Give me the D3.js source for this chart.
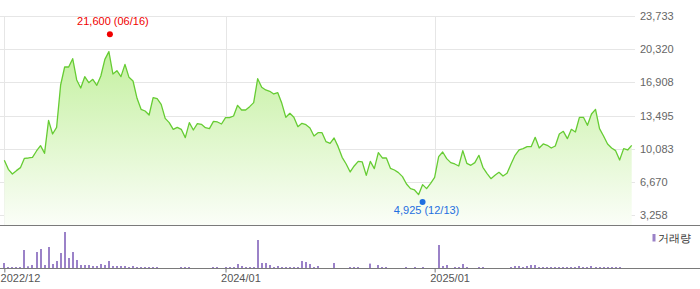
<!DOCTYPE html>
<html><head><meta charset="utf-8">
<script src="https://cdn.jsdelivr.net/npm/d3@7"></script>
<style>
html,body{margin:0;padding:0;background:#fff;}
svg{display:block;font-family:"Liberation Sans",Arial,sans-serif;}
</style></head>
<body><svg id="c" width="700" height="289"></svg>
<script>
// weekly closing prices (index-based weeks, 2022/12 .. 2025)
const prices = [8907,7983,7503,7846,8154,9112,9147,9215,9866,10414,
9626,13016,11612,12297,16645,18494,18494,19350,17159,16337,
17501,16885,17227,16611,17570,19282,20069,17775,18118,17501,
18768,17433,17056,15276,14146,13975,13564,15344,15241,14659,
13221,12776,12091,12297,12091,11235,12776,12023,12673,12605,
12262,12160,12913,12845,12639,13290,13290,13461,14557,14077,
14077,14420,14831,17296,16406,16132,15995,15721,15858,14762,
13324,13735,13324,12365,12708,12571,12229,11407,11749,11749,
10824,10653,11201,10311,9215,8530,7709,8325,8804,8736,
7366,8804,8051,9695,9147,9147,8085,7914,7640,7229,
6476,5997,5860,5380,6408,5997,6545,7160,9284,9763,
9078,8667,8530,8325,9900,8599,8393,8667,9421,8188,
7571,7024,7366,7674,7297,7571,8530,9421,9969,10106,
10311,10311,11270,10174,10585,10448,10174,10379,11612,11886,
11133,12091,11817,13324,13324,12502,13666,14146,12160,11407,
10585,10174,9900,8941,10106,9969,10448];
// weekly volume (estimated, relative units)
const volumes = [5300,1300,1300,1300,1300,18300,2000,3300,16300,19300,
3300,21300,4300,7300,15300,36300,10300,16300,8300,3300,
3300,3300,2300,2300,4300,3300,7300,2300,2300,2300,
2300,1300,2300,1300,1300,1300,1300,1300,1300,0,
0,0,0,0,1300,1300,1300,0,0,0,
0,0,1300,1300,0,1300,1300,1300,4300,2300,
1300,1300,1300,28300,5300,5300,3300,1300,2300,1300,
1300,1300,1300,1300,7300,6300,4300,1300,2300,0,
0,0,5300,0,0,0,1300,1300,1300,0,
0,4700,0,3300,1300,1300,0,0,0,0,
1300,0,1300,0,1300,0,0,0,23300,2300,
3300,0,1300,1300,4300,1300,0,0,1300,1300,
0,0,0,0,0,0,1300,2300,2300,1300,
2300,3300,3300,1300,1300,1300,1300,1300,1300,1300,
1300,1300,1300,2300,1300,1300,2300,1300,1300,1300,
1300,1300,1300,1300,0,0,0];
const priceTicks = [23733,20320,16908,13495,10083,6670,3258];
const xTickIdx = [0,55,107];
const xTickLabels = ["2022/12","2024/01","2025/01"];
const maxPoint = {idx:26, value:21600, label:"21,600 (06/16)"};
const minPoint = {idx:104, value:4925, label:"4,925 (12/13)"};
const legendLabel = "거래량";

const svg = d3.select("#c");
const x = d3.scaleLinear().domain([0, prices.length-1]).range([4.33, 631.7]);
const y = d3.scaleLinear().domain([3258, 23733]).range([215.3, 16]);
const mainBottom = 225.3, gridRight = 635;
const vy = d3.scaleLinear().domain([0, 40000]).range([268.3, 228.3]);

const defs = svg.append("defs");
const g = defs.append("linearGradient").attr("id","fillg")
  .attr("gradientUnits","userSpaceOnUse").attr("x1",0).attr("x2",0).attr("y1",30).attr("y2",mainBottom);
g.append("stop").attr("offset",0).attr("stop-color","#bdef95");
g.append("stop").attr("offset",0.5).attr("stop-color","#dcf6c6");
g.append("stop").attr("offset",1).attr("stop-color","#fbfef8");

// horizontal grid
svg.append("g").selectAll("line").data(priceTicks).join("line")
  .attr("x1",0).attr("x2",gridRight).attr("y1",d=>Math.round(y(d))+0.5).attr("y2",d=>Math.round(y(d))+0.5)
  .attr("stroke","#e6e6e6").attr("stroke-width",1);
// vertical grid
svg.append("g").selectAll("line").data(xTickIdx).join("line")
  .attr("x1",d=>Math.round(x(d))+0.5).attr("x2",d=>Math.round(x(d))+0.5)
  .attr("y1",16).attr("y2",mainBottom).attr("stroke","#e6e6e6");

// area + line
const area = d3.area().x((d,i)=>x(i)).y0(mainBottom).y1(d=>y(d));
svg.append("path").datum(prices).attr("d",area).attr("fill","url(#fillg)");
const line = d3.line().x((d,i)=>x(i)).y(d=>y(d));
svg.append("path").datum(prices).attr("d",line).attr("fill","none")
  .attr("stroke","#66cc33").attr("stroke-width",1.3).attr("stroke-linejoin","round");

// main bottom axis line
svg.append("line").attr("x1",0).attr("x2",700).attr("y1",Math.round(mainBottom)+0.5).attr("y2",Math.round(mainBottom)+0.5)
  .attr("stroke","#7a7a7a");

// right axis labels
const ax = d3.axisRight(y).tickValues(priceTicks).tickSize(0).tickPadding(0).tickFormat(d3.format(","));
const axg = svg.append("g").attr("transform","translate(640,0)").call(ax);
axg.select(".domain").remove();
axg.selectAll("text").attr("fill","#666").attr("font-size","11px")
  .attr("font-family","'Liberation Sans',Arial,sans-serif");

// annotations
svg.append("circle").attr("cx",x(maxPoint.idx)+1).attr("cy",y(maxPoint.value)-2.5).attr("r",3).attr("fill","#f00000");
svg.append("text").attr("x",x(maxPoint.idx)+4).attr("y",25).attr("text-anchor","middle")
  .attr("font-size","11px").attr("fill","#f00000").text(maxPoint.label);
svg.append("circle").attr("cx",x(minPoint.idx)).attr("cy",y(minPoint.value)+3).attr("r",3).attr("fill","#1f6fe0");
svg.append("text").attr("x",x(minPoint.idx)+4).attr("y",213.5).attr("text-anchor","middle")
  .attr("font-size","11px").attr("fill","#1f6fe0").text(minPoint.label);

// volume bars
svg.append("g").selectAll("rect").data(volumes).join("rect")
  .attr("x",(d,i)=>Math.round(x(i))-1).attr("width",2)
  .attr("y",d=>vy(d)).attr("height",d=>vy(0)-vy(d))
  .attr("fill","#9b82c8");
// volume axis line
svg.append("line").attr("x1",0).attr("x2",700).attr("y1",268.5).attr("y2",268.5).attr("stroke","#7a7a7a");
// x ticks + labels
const xa = d3.axisBottom(x).tickValues(xTickIdx).tickSize(4).tickPadding(2)
  .tickFormat((d,i)=>xTickLabels[i]);
const xg = svg.append("g").attr("transform","translate(0,268.5)").call(xa);
xg.select(".domain").remove();
xg.selectAll(".tick line").attr("stroke","#7a7a7a");
xg.selectAll("text").attr("fill","#555").attr("font-size","11px").attr("text-anchor","start")
  .attr("dx", (d,i)=> i===0 ? -4.3 : -5)
  .attr("font-family","'Liberation Sans',Arial,sans-serif");

// legend
svg.append("rect").attr("x",652.5).attr("y",234).attr("width",3).attr("height",7.5).attr("fill","#9b82c8");
svg.append("text").attr("x",658).attr("y",241.5).attr("font-size","11px").attr("fill","#333").text(legendLabel);
</script></body></html>
